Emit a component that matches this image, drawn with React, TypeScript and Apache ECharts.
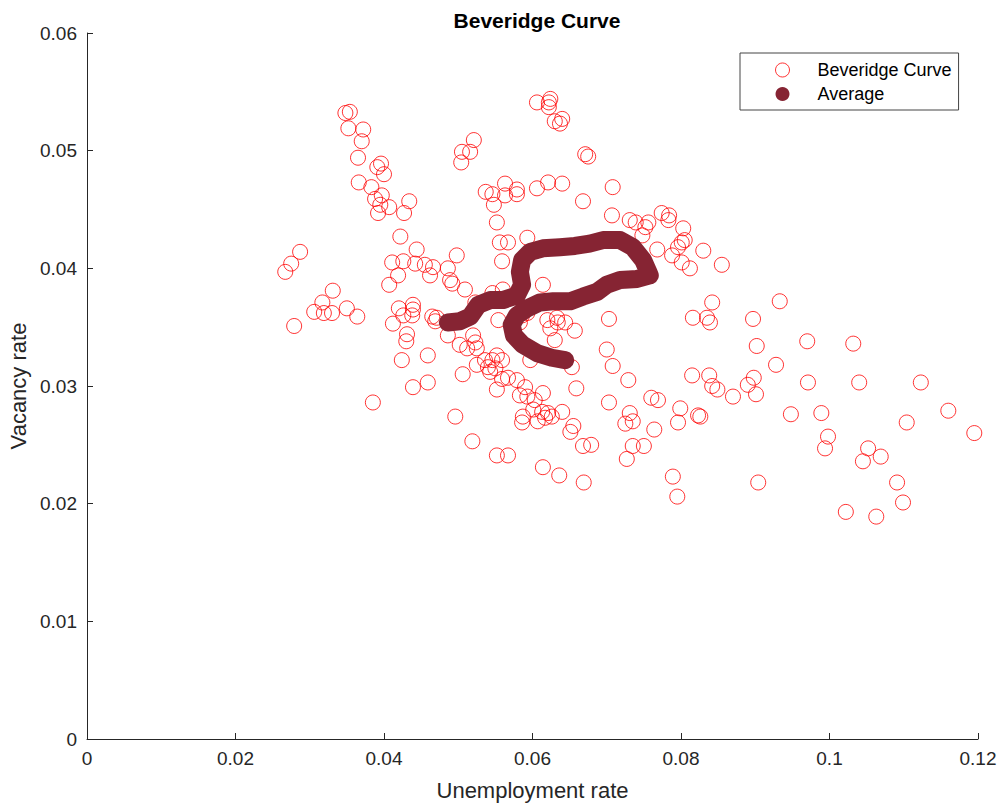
import React, { useEffect, useRef } from 'react';
import * as echarts from 'echarts';

// [unemployment rate, vacancy rate]
const beveridgePoints: [number, number][] = [
  [0.0348, 0.0532], [0.0354, 0.0533], [0.0352, 0.0519], [0.0372, 0.0518], [0.0370, 0.0508],
  [0.0365, 0.0494], [0.0391, 0.0486], [0.0396, 0.0489], [0.0400, 0.0480], [0.0366, 0.0473],
  [0.0383, 0.0469], [0.0397, 0.0462], [0.0388, 0.0459], [0.0434, 0.0457], [0.0395, 0.0454],
  [0.0407, 0.0452], [0.0392, 0.0447], [0.0427, 0.0447], [0.0422, 0.0427],
  [0.0606, 0.0541], [0.0624, 0.0544], [0.0622, 0.0541], [0.0622, 0.0537], [0.0630, 0.0525],
  [0.0640, 0.0527], [0.0637, 0.0523], [0.0521, 0.0509], [0.0505, 0.0499], [0.0516, 0.0499],
  [0.0504, 0.0490], [0.0537, 0.0465], [0.0546, 0.0463], [0.0563, 0.0472], [0.0563, 0.0462],
  [0.0579, 0.0467], [0.0579, 0.0463], [0.0548, 0.0454], [0.0606, 0.0468], [0.0621, 0.0473],
  [0.0640, 0.0472], [0.0552, 0.0439], [0.0593, 0.0426],
  [0.0671, 0.0497], [0.0675, 0.0495], [0.0708, 0.0469], [0.0668, 0.0457], [0.0707, 0.0445],
  [0.0731, 0.0441], [0.0739, 0.0439], [0.0756, 0.0439], [0.0752, 0.0435], [0.0774, 0.0447],
  [0.0784, 0.0445], [0.0783, 0.0441], [0.0803, 0.0434], [0.0748, 0.0428],
  [0.0287, 0.0414], [0.0275, 0.0404], [0.0267, 0.0397], [0.0444, 0.0416], [0.0411, 0.0405],
  [0.0426, 0.0406], [0.0442, 0.0404], [0.0419, 0.0394], [0.0407, 0.0386], [0.0331, 0.0381],
  [0.0317, 0.0371], [0.0306, 0.0363], [0.0319, 0.0362], [0.0330, 0.0362], [0.0350, 0.0366],
  [0.0364, 0.0359], [0.0279, 0.0351], [0.0420, 0.0366], [0.0439, 0.0369], [0.0439, 0.0365],
  [0.0426, 0.0360], [0.0438, 0.0360], [0.0412, 0.0353], [0.0431, 0.0344], [0.0430, 0.0338],
  [0.0424, 0.0322],
  [0.0556, 0.0422], [0.0567, 0.0422], [0.0498, 0.0411], [0.0559, 0.0406], [0.0455, 0.0403],
  [0.0466, 0.0401], [0.0486, 0.0400], [0.0462, 0.0394], [0.0489, 0.0390], [0.0492, 0.0387],
  [0.0509, 0.0382], [0.0560, 0.0382], [0.0546, 0.0379], [0.0614, 0.0386], [0.0523, 0.0371],
  [0.0465, 0.0359], [0.0471, 0.0358], [0.0469, 0.0355], [0.0554, 0.0356], [0.0579, 0.0360],
  [0.0586, 0.0360], [0.0593, 0.0362], [0.0583, 0.0354], [0.0620, 0.0356], [0.0633, 0.0358],
  [0.0634, 0.0354], [0.0644, 0.0354], [0.0624, 0.0349], [0.0630, 0.0339], [0.0486, 0.0343],
  [0.0502, 0.0335], [0.0520, 0.0343], [0.0523, 0.0337], [0.0512, 0.0332], [0.0525, 0.0332],
  [0.0459, 0.0326], [0.0536, 0.0322], [0.0546, 0.0322], [0.0552, 0.0326], [0.0559, 0.0322],
  [0.0525, 0.0318], [0.0540, 0.0316], [0.0543, 0.0312], [0.0550, 0.0315], [0.0597, 0.0322],
  [0.0506, 0.0310], [0.0567, 0.0307], [0.0579, 0.0305], [0.0559, 0.0306],
  [0.0768, 0.0416], [0.0801, 0.0422], [0.0796, 0.0418], [0.0805, 0.0424], [0.0788, 0.0411],
  [0.0801, 0.0405], [0.0812, 0.0400], [0.0830, 0.0415], [0.0855, 0.0403], [0.0842, 0.0371],
  [0.0816, 0.0358], [0.0835, 0.0358], [0.0839, 0.0354], [0.0703, 0.0357], [0.0657, 0.0347],
  [0.0700, 0.0331], [0.0708, 0.0317], [0.0653, 0.0316], [0.0815, 0.0309], [0.0838, 0.0309],
  [0.0729, 0.0305],
  [0.0933, 0.0372], [0.0897, 0.0357], [0.0902, 0.0334], [0.0970, 0.0338], [0.1032, 0.0336],
  [0.0928, 0.0318], [0.0898, 0.0307], [0.0971, 0.0303], [0.1040, 0.0303], [0.1123, 0.0303],
  [0.0385, 0.0286], [0.0439, 0.0299],
  [0.0459, 0.0303], [0.0552, 0.0297], [0.0590, 0.0299], [0.0583, 0.0292], [0.0593, 0.0291],
  [0.0603, 0.0288], [0.0614, 0.0294], [0.0601, 0.0280], [0.0613, 0.0278], [0.0621, 0.0277],
  [0.0626, 0.0274], [0.0617, 0.0273], [0.0640, 0.0278], [0.0587, 0.0274], [0.0586, 0.0269],
  [0.0607, 0.0270], [0.0496, 0.0274], [0.0519, 0.0253], [0.0552, 0.0241], [0.0567, 0.0241],
  [0.0614, 0.0231], [0.0636, 0.0224],
  [0.0659, 0.0298], [0.0842, 0.0300], [0.0849, 0.0297], [0.0703, 0.0286], [0.0760, 0.0290],
  [0.0769, 0.0288], [0.0799, 0.0281], [0.0796, 0.0269], [0.0823, 0.0275], [0.0826, 0.0274],
  [0.0731, 0.0277], [0.0735, 0.0270], [0.0725, 0.0268], [0.0655, 0.0266], [0.0651, 0.0261],
  [0.0764, 0.0263], [0.0668, 0.0249], [0.0679, 0.0250], [0.0735, 0.0249], [0.0750, 0.0249],
  [0.0727, 0.0238], [0.0669, 0.0218], [0.0789, 0.0223], [0.0795, 0.0206],
  [0.0870, 0.0291], [0.0890, 0.0301], [0.0901, 0.0293], [0.0948, 0.0276], [0.0989, 0.0277],
  [0.1104, 0.0269], [0.1160, 0.0279], [0.1195, 0.0260], [0.0998, 0.0257], [0.0994, 0.0247],
  [0.1052, 0.0247], [0.1045, 0.0236], [0.1069, 0.0240], [0.0904, 0.0218], [0.1091, 0.0218],
  [0.1099, 0.0201], [0.1022, 0.0193], [0.1063, 0.0189],
];

const averagePath: [number, number][] = [
  [0.0486, 0.0354], [0.0502, 0.0355], [0.0516, 0.0359], [0.0527, 0.0369], [0.0543, 0.0373],
  [0.0560, 0.0373], [0.0579, 0.0377], [0.0586, 0.0386], [0.0583, 0.0397], [0.0586, 0.0407],
  [0.0597, 0.0414], [0.0614, 0.0417], [0.0637, 0.0418], [0.0657, 0.0419], [0.0677, 0.0421],
  [0.0695, 0.0424], [0.0718, 0.0424], [0.0735, 0.0418], [0.0749, 0.0407], [0.0756, 0.0397],
  [0.0758, 0.0394], [0.0741, 0.0391], [0.0718, 0.0390], [0.0700, 0.0386], [0.0687, 0.0380],
  [0.0668, 0.0376], [0.0651, 0.0372], [0.0628, 0.0372], [0.0610, 0.0371], [0.0593, 0.0366],
  [0.0579, 0.0360], [0.0572, 0.0352], [0.0575, 0.0343], [0.0587, 0.0335], [0.0606, 0.0328],
  [0.0626, 0.0324], [0.0644, 0.0322],
];

const FONT = "'Liberation Sans', Arial, Helvetica, sans-serif";
const AXIS_COLOR = '#262626';
const SCATTER_COLOR = '#ff0000';
const AVG_COLOR = '#862433';

export default function App() {
  const ref = useRef<HTMLDivElement>(null);

  useEffect(() => {
    document.body.style.margin = '0';
    const chart = echarts.init(ref.current!, undefined, { renderer: 'svg' });
    chart.setOption({
      animation: false,
      backgroundColor: '#ffffff',
      textStyle: { fontFamily: FONT },
      title: {
        text: 'Beveridge Curve',
        left: 532,
        top: 5,
        textAlign: 'center',
        textStyle: { fontFamily: FONT, fontSize: 21, fontWeight: 'bold', color: '#000000' },
      },
      grid: {
        left: 87,
        right: 24,
        top: 33,
        bottom: 65,
        containLabel: false,
        outerBoundsMode: 'none',
      },
      xAxis: {
        type: 'value',
        min: 0,
        max: 0.12,
        interval: 0.02,
        name: 'Unemployment rate',
        nameLocation: 'middle',
        nameGap: 40,
        nameTextStyle: { fontFamily: FONT, fontSize: 22, color: AXIS_COLOR },
        axisLine: { show: true, lineStyle: { color: AXIS_COLOR, width: 1 } },
        axisTick: { show: true, inside: true, length: 6, lineStyle: { color: AXIS_COLOR } },
        axisLabel: { fontFamily: FONT, fontSize: 19, color: AXIS_COLOR, margin: 10 },
        splitLine: { show: false },
      },
      yAxis: {
        type: 'value',
        min: 0,
        max: 0.06,
        interval: 0.01,
        name: 'Vacancy rate',
        nameLocation: 'middle',
        nameGap: 57,
        nameTextStyle: { fontFamily: FONT, fontSize: 22, color: AXIS_COLOR },
        axisLine: { show: true, lineStyle: { color: AXIS_COLOR, width: 1 } },
        axisTick: { show: true, inside: true, length: 6, lineStyle: { color: AXIS_COLOR } },
        axisLabel: { fontFamily: FONT, fontSize: 19, color: AXIS_COLOR, margin: 10 },
        splitLine: { show: false },
      },
      legend: {
        orient: 'vertical',
        left: 740,
        top: 53,
        padding: [8, 7, 7, 35],
        itemWidth: 14,
        itemHeight: 14,
        itemGap: 6,
        borderColor: '#444444',
        borderWidth: 1,
        borderRadius: 0,
        backgroundColor: '#ffffff',
        itemStyle: { borderWidth: 1 },
        textStyle: { fontFamily: FONT, fontSize: 18, color: '#000000', padding: [0, 0, 0, 23] },
        data: [
          { name: 'Beveridge Curve', icon: 'circle' },
          { name: 'Average', icon: 'circle' },
        ],
      },
      series: [
        {
          name: 'Beveridge Curve',
          type: 'scatter',
          data: beveridgePoints,
          symbol: 'circle',
          symbolSize: 15,
          itemStyle: { color: 'rgba(255,0,0,0)', borderColor: SCATTER_COLOR, borderWidth: 1 },
          emphasis: { disabled: true },
          z: 2,
        },
        {
          name: 'Average',
          type: 'line',
          data: averagePath,
          showSymbol: false,
          symbol: 'circle',
          z: 3,
          lineStyle: { color: AVG_COLOR, width: 18, cap: 'round', join: 'round' },
          itemStyle: { color: AVG_COLOR },
          emphasis: { disabled: true },
        },
      ],
    });
    return () => chart.dispose();
  }, []);

  return <div ref={ref} style={{ width: 1002, height: 804 }} />;
}
